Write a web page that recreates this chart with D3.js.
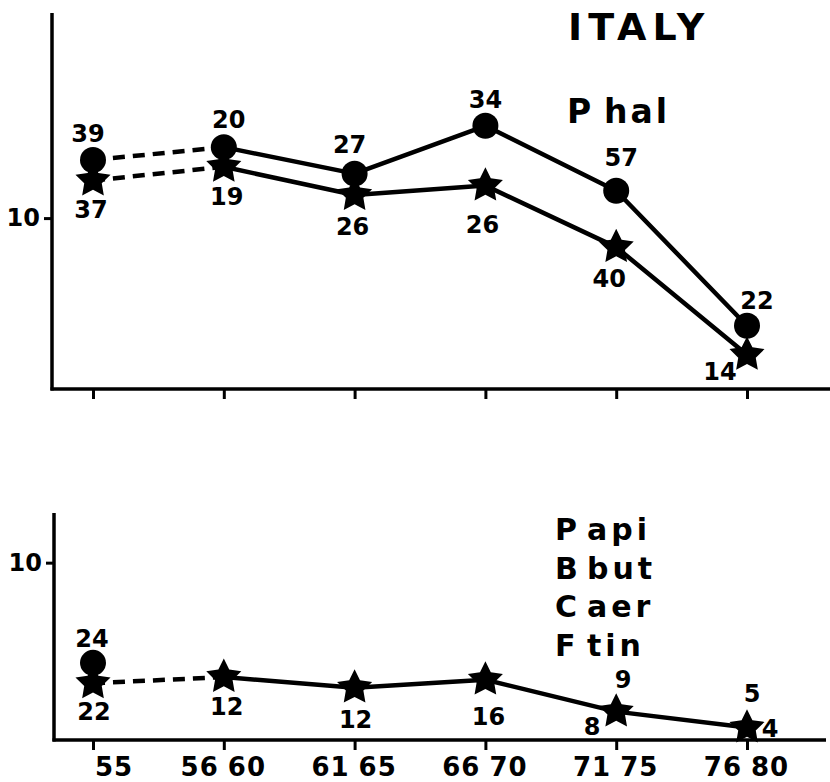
<!DOCTYPE html>
<html>
<head>
<meta charset="utf-8">
<script src="https://cdn.jsdelivr.net/npm/d3@7"></script>
<style>
  html, body { margin: 0; padding: 0; background: #fff; }
  svg { display: block; }
  text { font-family: "DejaVu Sans", "Liberation Sans", sans-serif; font-weight: bold; fill: #000; }
</style>
</head>
<body>
<svg id="chart" width="830" height="782"></svg>
<script>
// ---------- DATA ----------
const categories = ["55", "56 60", "61 65", "66 70", "71 75", "76 80"];
const yTickValues = [10];

// Upper panel: P hal
const topCircleValues = [13.4, 14.15, 12.6, 15.4, 11.6, 3.7];
const topStarValues   = [12.2, 13.0, 11.35, 11.9, 8.3, 2.0];
const topCircleN      = [39, 20, 27, 34, 57, 22];
const topStarN        = [37, 19, 26, 26, 40, 14];

// Lower panel: P api, B but, C aer, F tin
const botCircleValues = [4.35, null, null, null, null, null];
const botStarValues   = [3.2, 3.55, 2.95, 3.4, 1.6, 0.7];
const botCircleN      = [24, null, null, null, 9, 5];
const botStarN        = [22, 12, 12, 16, 8, 4];

const title = "ITALY";
const topSpecies = [["P", "hal"]];
const botSpecies = [["P", "api"], ["B", "but"], ["C", "aer"], ["F", "tin"]];

// ---------- LAYOUT (label placement offsets, not data) ----------
const topCirclePlace = [[-5, -18], [5, -19], [-5, -21], [0, -18], [5, -25], [10, -17]];
const topStarPlace   = [[-2, 38], [3, 38], [-2, 40], [-3, 47], [-7, 40], [-27, 25]];
const botCirclePlace = [[-1, -16], null, null, null, [7, -24], [5, -26]];
const botStarPlace   = [[1, 37], [3, 38], [1, 40], [3, 45], [-24, 23], [23, 9]];

const svg = d3.select("#chart");

const x = d3.scalePoint().domain(categories).range([93, 747]);

// fat five-pointed star symbol type for d3.symbol
const fatStar = {
  draw(ctx, size) {
    const R = Math.sqrt(size), r = R * 0.5;
    for (let i = 0; i < 10; i++) {
      const a = -Math.PI / 2 + i * Math.PI / 5;
      const rr = i % 2 ? r : R;
      const px = rr * Math.cos(a), py = rr * Math.sin(a);
      if (i) ctx.lineTo(px, py); else ctx.moveTo(px, py);
    }
    ctx.closePath();
  }
};

function panel(cfg) {
  const g = svg.append("g");
  const y = d3.scaleLinear().domain(cfg.yDomain).range([cfg.y0, cfg.y1]);

  // y axis
  const ya = g.append("g").attr("transform", `translate(${cfg.ax},0)`)
    .call(d3.axisLeft(y).tickValues(yTickValues).tickSize(8).tickSizeOuter(0).tickPadding(4));
  ya.attr("font-size", null).attr("font-family", null);
  ya.select(".domain").remove();
  ya.selectAll(".tick line").attr("stroke", "#000").attr("stroke-width", 3);
  ya.selectAll(".tick text").attr("font-size", 24).attr("fill", "#000");
  g.append("line").attr("x1", cfg.ax).attr("x2", cfg.ax)
    .attr("y1", cfg.y1).attr("y2", cfg.y0 + 1.5)
    .attr("stroke", "#000").attr("stroke-width", 3.5);

  // x axis
  const xa = g.append("g").attr("transform", `translate(0,${cfg.y0})`)
    .call(d3.axisBottom(x).tickSize(10).tickSizeOuter(0).tickFormat(""));
  xa.select(".domain").remove();
  xa.selectAll(".tick line").attr("stroke", "#000").attr("stroke-width", 3);
  g.append("line").attr("x1", cfg.ax - 1.5).attr("x2", cfg.xEnd)
    .attr("y1", cfg.y0).attr("y2", cfg.y0)
    .attr("stroke", "#000").attr("stroke-width", 3.5);

  if (cfg.showTickLabels) {
    categories.forEach(c => {
      const parts = c.split(" ");
      const cx = x(c);
      if (parts.length === 1) {
        g.append("text").attr("x", cx + 2).attr("y", cfg.tickLabelY)
          .attr("font-size", 26).attr("letter-spacing", 1).text(parts[0]);
      } else {
        g.append("text").attr("x", cx - 5).attr("y", cfg.tickLabelY)
          .attr("text-anchor", "end").attr("font-size", 26).attr("letter-spacing", 1).text(parts[0]);
        g.append("text").attr("x", cx + 4).attr("y", cfg.tickLabelY)
          .attr("font-size", 26).attr("letter-spacing", 1).text(parts[1]);
      }
    });
  }

  // lines: dashed first segment, solid afterwards
  function drawSeries(vals) {
    const pts = categories.map((c, i) => ({ c, i, v: vals[i] }));
    const line = d3.line().defined(d => d.v != null).x(d => x(d.c)).y(d => y(d.v));
    const dashed = pts.slice(0, 2);
    const solid = pts.slice(1);
    if (dashed.every(d => d.v != null)) {
      g.append("path").attr("d", line(dashed)).attr("fill", "none")
        .attr("stroke", "#000").attr("stroke-width", 4.5).attr("stroke-dasharray", "12 8");
    }
    g.append("path").attr("d", line(solid)).attr("fill", "none")
      .attr("stroke", "#000").attr("stroke-width", 4.5).attr("stroke-linejoin", "round");
  }
  if (cfg.circleValues.filter(v => v != null).length > 1) drawSeries(cfg.circleValues);
  drawSeries(cfg.starValues);

  // markers
  const star = d3.symbol().type(fatStar).size(340);
  categories.forEach((c, i) => {
    if (cfg.starValues[i] != null) {
      g.append("path").attr("d", star())
        .attr("transform", `translate(${x(c)},${y(cfg.starValues[i])})`)
        .attr("fill", "#000");
    }
  });
  categories.forEach((c, i) => {
    if (cfg.circleValues[i] != null) {
      g.append("circle").attr("cx", x(c)).attr("cy", y(cfg.circleValues[i]))
        .attr("r", 13).attr("fill", "#000");
    }
  });

  // labels
  categories.forEach((c, i) => {
    const cv = cfg.circleN[i];
    if (cv != null && cfg.circlePlace[i]) {
      const refV = cfg.circleValues[i] != null ? cfg.circleValues[i] : cfg.starValues[i];
      const [dx, dy] = cfg.circlePlace[i];
      g.append("text").attr("x", x(c) + dx).attr("y", y(refV) + dy)
        .attr("text-anchor", "middle").attr("font-size", 24).text(cv);
    }
    const sv = cfg.starN[i];
    if (sv != null && cfg.starPlace[i]) {
      const [dx, dy] = cfg.starPlace[i];
      g.append("text").attr("x", x(c) + dx).attr("y", y(cfg.starValues[i]) + dy)
        .attr("text-anchor", "middle").attr("font-size", 24).text(sv);
    }
  });
}

panel({
  yDomain: [0, 22], y0: 389, y1: 13, ax: 52, xEnd: 830,
  showTickLabels: false,
  circleValues: topCircleValues, starValues: topStarValues,
  circleN: topCircleN, starN: topStarN,
  circlePlace: topCirclePlace, starPlace: topStarPlace
});

panel({
  yDomain: [0, 12.8], y0: 740, y1: 513, ax: 54, xEnd: 826,
  showTickLabels: true, tickLabelY: 776,
  circleValues: botCircleValues, starValues: botStarValues,
  circleN: botCircleN, starN: botStarN,
  circlePlace: botCirclePlace, starPlace: botStarPlace
});

// Titles
svg.append("text").attr("x", 568).attr("y", 40)
  .attr("font-size", 38).attr("letter-spacing", 6).text(title);

topSpecies.forEach(([a, b], i) => {
  svg.append("text").attr("x", 567).attr("y", 123 + i * 38).attr("font-size", 33).text(a);
  svg.append("text").attr("x", 604).attr("y", 123 + i * 38).attr("font-size", 33)
    .attr("letter-spacing", 3).text(b);
});

botSpecies.forEach(([a, b], i) => {
  svg.append("text").attr("x", 555).attr("y", 540 + i * 38.5).attr("font-size", 30).text(a);
  svg.append("text").attr("x", 587).attr("y", 540 + i * 38.5).attr("font-size", 30)
    .attr("letter-spacing", 4).text(b);
});
</script>
</body>
</html>
